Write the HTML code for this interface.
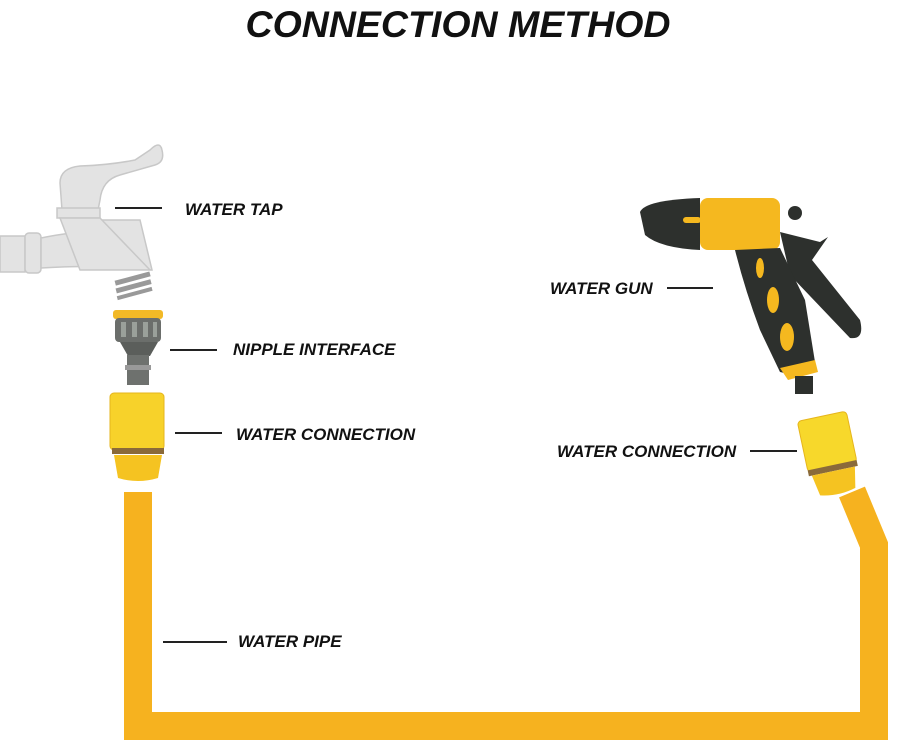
<!DOCTYPE html>
<html><head><style>
body{margin:0;background:#fff;width:900px;height:747px;overflow:hidden}
text{font-family:"Liberation Sans",sans-serif;font-weight:bold;font-style:italic;fill:#111}
</style></head><body>
<svg width="900" height="747" viewBox="0 0 900 747">
<text x="458" y="37" font-size="37.5" text-anchor="middle">CONNECTION METHOD</text>
<g font-size="17">
<text x="185" y="215">WATER TAP</text>
<text x="233" y="355">NIPPLE INTERFACE</text>
<text x="236" y="440">WATER CONNECTION</text>
<text x="238" y="647">WATER PIPE</text>
<text x="550" y="294">WATER GUN</text>
<text x="557" y="457">WATER CONNECTION</text>
</g>
<g stroke="#222" stroke-width="2">
<line x1="115" y1="208" x2="162" y2="208"/>
<line x1="170" y1="350" x2="217" y2="350"/>
<line x1="175" y1="433" x2="222" y2="433"/>
<line x1="163" y1="642" x2="227" y2="642"/>
<line x1="667" y1="288" x2="713" y2="288"/>
<line x1="750" y1="451" x2="797" y2="451"/>
</g>
<path d="M138 492 V726 H874 V545 L852 492" fill="none" stroke="#f6b21f" stroke-width="28"/>
<g fill="#e3e3e3" stroke="#c8c8c8" stroke-width="1.5">
<rect x="0" y="236" width="25" height="36"/>
<rect x="25" y="233" width="16" height="40" rx="4"/>
<path d="M41 238 Q70 232 90 232 L100 220 H140 L152 270 L120 268 Q90 265 41 268 Z"/>
<path d="M60 183 Q60 168 80 166 Q110 165 135 160 L150 150 Q160 140 162 150 Q165 162 155 165 L120 175 Q102 180 100 200 L98 210 H62 Z"/>
<rect x="57" y="208" width="43" height="10"/>
<path d="M60 218 H100 L150 270 L80 270 Z"/>
</g>
<g fill="#999"><rect x="115" y="276" width="36" height="5" transform="rotate(-15 133 280)"/><rect x="116" y="284" width="36" height="5" transform="rotate(-15 133 288)"/><rect x="117" y="292" width="36" height="4" transform="rotate(-15 133 295)"/></g>
<rect x="113" y="310" width="50" height="9" rx="3" fill="#f2b926"/>
<rect x="115" y="318" width="46" height="24" rx="4" fill="#6b6e6b"/>
<g fill="#9aa09a"><rect x="121" y="322" width="5" height="15"/><rect x="132" y="322" width="5" height="15"/><rect x="143" y="322" width="5" height="15"/><rect x="153" y="322" width="4" height="15"/></g>
<path d="M120 342 H158 L150 356 H128 Z" fill="#5b5e5b"/>
<rect x="127" y="355" width="22" height="30" fill="#6e716e"/>
<rect x="125" y="365" width="26" height="5" fill="#999"/>
<rect x="110" y="393" width="54" height="57" rx="4" fill="#f7d22a" stroke="#e6b51c"/>
<rect x="112" y="448" width="52" height="6" fill="#8a6a3a"/>
<path d="M114 455 H162 L158 478 Q138 484 118 478 Z" fill="#f5c321"/>
<g transform="rotate(-12 832 455)">
<rect x="805" y="415" width="50" height="52" rx="4" fill="#f7d82b" stroke="#e6b51c"/>
<rect x="805" y="465" width="50" height="6" fill="#8a6a3a"/>
<path d="M808 471 H852 L848 492 Q830 497 812 492 Z" fill="#f5c321"/>
</g>
<path d="M640 212 Q645 200 700 198 V250 Q660 248 645 235 Z" fill="#2d302d"/>
<rect x="683" y="217" width="18" height="6" rx="3" fill="#f5b81f"/>
<rect x="700" y="198" width="80" height="52" rx="8" fill="#f5b81f"/>
<circle cx="795" cy="213" r="7" fill="#2d302d"/>
<path d="M780 232 L820 242 L828 237 L812 260 L860 320 Q865 340 850 338 L790 275 Z" fill="#2d302d"/>
<path d="M735 250 L780 248 L805 300 L815 362 Q800 378 780 372 L760 330 Q745 290 735 250 Z" fill="#2d302d"/>
<ellipse cx="760" cy="268" rx="4" ry="10" fill="#f5b81f"/>
<ellipse cx="773" cy="300" rx="6" ry="13" fill="#f5b81f"/>
<ellipse cx="787" cy="337" rx="7" ry="14" fill="#f5b81f"/>
<path d="M780 368 L815 360 L818 372 L788 380 Z" fill="#f5b81f"/>
<rect x="795" y="376" width="18" height="18" fill="#2d302d"/>
</svg>
</body></html>
